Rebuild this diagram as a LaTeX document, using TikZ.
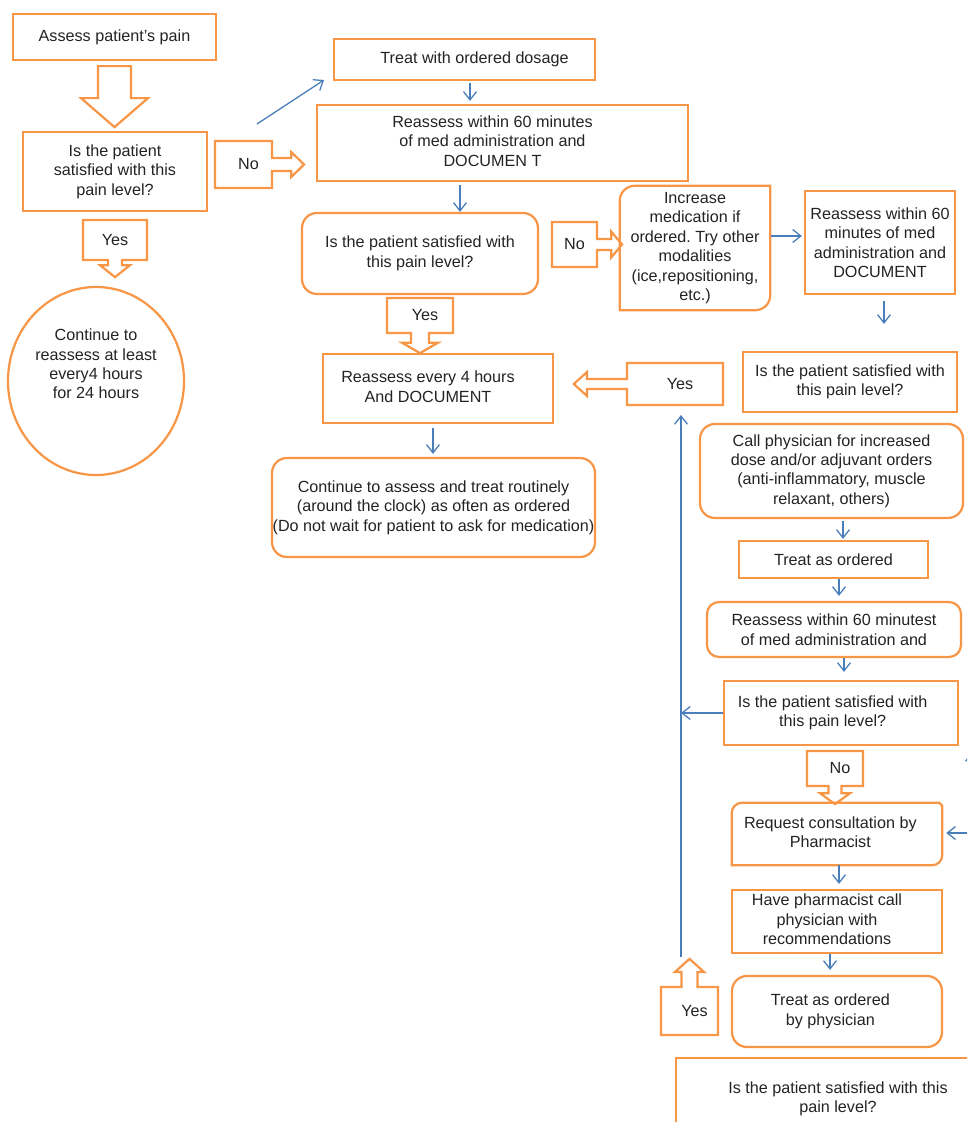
\documentclass[tikz,border=0pt]{standalone}
\usepackage{fontspec}
\setmainfont{Liberation Sans}
\usepackage{tikz}
\usetikzlibrary{shapes.geometric, shapes.arrows, arrows.meta, positioning, calc}
\definecolor{boxorange}{RGB}{247,150,70}
\definecolor{flowblue}{RGB}{74,126,187}
\definecolor{txtdark}{RGB}{35,35,35}
\newcommand{\flowfont}{\fontsize{13.8}{16.6}\selectfont\frenchspacing}
\newcommand{\padright}[2]{\begin{tabular}{@{}c@{\hspace{#1}}}#2\end{tabular}}
\tikzset{
  box/.style={rectangle, draw=boxorange, line width=1.9pt, align=center,
    inner sep=0pt, font=\flowfont, text=txtdark},
  rbox/.style={box, rounded corners=0.45cm},
  dbox/.style={rectangle, align=center, inner sep=0pt, font=\flowfont, text=txtdark},
  plain/.style={align=center, inner sep=0pt, font=\flowfont, text=txtdark},
  oval/.style={ellipse, draw=boxorange, line width=1.9pt, inner sep=0pt},
  tag/.style={arrow box, draw=boxorange, line width=1.9pt, inner sep=0pt,
    font=\flowfont, text=txtdark},
  edge/.style={draw=boxorange, line width=1.9pt},
  hollow/.style={draw=boxorange, line width=1.9pt, line join=miter},
  flow/.style={-{Straight Barb[length=7pt,width=11pt]}, flowblue, line width=1.1pt}
}

\begin{document}
\begin{tikzpicture}[x=0.03cm, y=-0.03cm]

  \useasboundingbox (0,0) rectangle (967,1122);
  \begin{scope}
  \clip (0,0) rectangle (967,1122);

  % left column
  \node[box, minimum width=6.09cm, minimum height=1.38cm] (assess) at (114.5,37) {Assess patient's pain};
  \node[box, minimum width=5.52cm, minimum height=2.37cm] (sat1) at (115,171.5) {Is the patient\\satisfied with this\\pain level?};
  \node[tag, minimum width=1.71cm, minimum height=1.41cm, arrow box arrows={east:0.93cm from border},
    arrow box shaft width=0.39cm, arrow box head extend=0.18cm, arrow box tip angle=88] (no1) at (243.5,164.5) {\hspace*{0.3cm}No};
  \node[tag, minimum width=1.92cm, minimum height=1.2cm, arrow box arrows={south:0.48cm from border},
    arrow box shaft width=0.42cm, arrow box head extend=0.24cm, arrow box tip angle=103] (yes1) at (115,240) {Yes};
  \node[oval, minimum width=5.28cm, minimum height=5.64cm] (keep) at (96,381) {};
  \node[plain] (keeptxt) at (96,364) {Continue to\\reassess at least\\every4 hours\\for 24 hours};

  \draw[hollow] ($(assess.south)+(-16.5,5)$) -- ++(33,0) -- ++(0,32) -- ++(17,0) -- ++(-33.5,29)
    -- ++(-33.5,-29) -- ++(17,0) -- cycle;

  % middle column
  \coordinate (diagstart) at (257,124);
  \coordinate (diagend) at (324,80);
  \node[box, minimum width=7.83cm, minimum height=1.23cm] (treat) at (464.5,59.5) {\hspace*{0.6cm}Treat with ordered dosage};
  \node[box, minimum width=11.13cm, minimum height=2.28cm] (reass1) at (502.5,143) {\padright{0.6cm}{Reassess within 60 minutes\\of med administration and\\DOCUMEN T}};
  \node[rbox, minimum width=7.08cm, minimum height=2.43cm] (sat2) at (420,253.5) {Is the patient satisfied with\\this pain level?};
  \node[tag, minimum width=1.35cm, minimum height=1.35cm, arrow box arrows={east:0.72cm from border},
    arrow box shaft width=0.33cm, arrow box head extend=0.225cm, arrow box tip angle=100] (no2) at (574.5,244.5) {No};
  \node[tag, minimum width=1.98cm, minimum height=1.05cm, arrow box arrows={south:0.57cm from border},
    arrow box shaft width=0.54cm, arrow box head extend=0.27cm, arrow box tip angle=120] (yes2) at (420,315.5) {\hspace*{0.3cm}Yes};
  \node[box, minimum width=6.9cm, minimum height=2.07cm] (every4) at (438,388.5) {\padright{0.6cm}{Reassess every 4 hours\\And DOCUMENT}};
  \node[rbox, minimum width=9.69cm, minimum height=2.97cm] (routine) at (433.5,507.5) {Continue to assess and treat routinely\\(around the clock) as often as ordered\\(Do not wait for patient to ask for medication)};

  % right column
  \node[dbox, minimum width=4.5cm, minimum height=3.72cm] (more) at (695,248) {Increase\\medication if\\ordered. Try other\\modalities\\(ice,repositioning,\\etc.)};
  \draw[edge] (more.south west) -- ($(more.north west)+(0,15)$)
    .. controls ($(more.north west)+(0,6.7)$) and ($(more.north west)+(6.7,0)$) .. ($(more.north west)+(15,0)$)
    -- (more.north east) -- ($(more.south east)+(0,-15)$)
    .. controls ($(more.south east)+(0,-6.7)$) and ($(more.south east)+(-6.7,0)$) .. ($(more.south east)+(-15,0)$)
    -- cycle;
  \node[box, minimum width=4.5cm, minimum height=3.09cm] (reass2) at (880,242.5) {Reassess within 60\\minutes of med\\administration and\\DOCUMENT};
  \node[box, minimum width=6.42cm, minimum height=1.8cm] (sat3) at (850,382) {Is the patient satisfied with\\this pain level?};
  \node[tag, minimum width=2.88cm, minimum height=1.26cm, arrow box arrows={west:1.56cm from border},
    arrow box shaft width=0.3cm, arrow box head extend=0.21cm, arrow box tip angle=85] (yes3) at (675,384) {\hspace*{0.3cm}Yes};
  \node[rbox, minimum width=7.89cm, minimum height=2.82cm] (callmd) at (831.5,471) {Call physician for increased\\dose and/or adjuvant orders\\(anti-inflammatory, muscle\\relaxant, others)};
  \node[box, minimum width=5.67cm, minimum height=1.11cm] (treat2) at (833.5,559.5) {Treat as ordered};
  \node[rbox, rounded corners=0.36cm, minimum width=7.62cm, minimum height=1.65cm] (reass3) at (834,629.5) {Reassess within 60 minutest\\of med administration and};
  \node[box, minimum width=7.02cm, minimum height=1.92cm] (sat4) at (841,713) {\padright{0.5cm}{Is the patient satisfied with\\this pain level?}};
  \node[tag, minimum width=1.68cm, minimum height=1.05cm, arrow box arrows={south:0.51cm from border},
    arrow box shaft width=0.39cm, arrow box head extend=0.255cm, arrow box tip angle=108] (no3) at (835,768.5) {\hspace*{0.3cm}No};
  \node[dbox, minimum width=6.3cm, minimum height=1.86cm] (pharm) at (837,834) {\padright{0.4cm}{Request consultation by\\Pharmacist}};
  \draw[edge] (pharm.south west) -- ($(pharm.north west)+(0,10)$)
    .. controls ($(pharm.north west)+(0,4.5)$) and ($(pharm.north west)+(4.5,0)$) .. ($(pharm.north west)+(10,0)$)
    -- ($(pharm.north east)+(-3,0)$) -- ($(pharm.north east)+(0,3)$) -- ($(pharm.south east)+(0,-10)$)
    .. controls ($(pharm.south east)+(0,-4.5)$) and ($(pharm.south east)+(-4.5,0)$) .. ($(pharm.south east)+(-10,0)$)
    -- cycle;
  \node[box, minimum width=6.3cm, minimum height=1.89cm] (pharmcall) at (837,921.5) {\padright{0.6cm}{Have pharmacist call\\physician with\\recommendations}};
  \node[rbox, minimum width=6.3cm, minimum height=2.13cm] (treat3) at (837,1011.5) {\padright{0.4cm}{Treat as ordered\\by physician}};
  \node[tag, minimum width=1.71cm, minimum height=1.44cm, arrow box arrows={north:0.81cm from border},
    arrow box shaft width=0.48cm, arrow box head extend=0.195cm, arrow box tip angle=96] (yes4) at (689.5,1011) {\hspace*{0.3cm}Yes};
  \node[box, minimum width=9.72cm, minimum height=2.46cm] (sat5) at (838,1099) {Is the patient satisfied with this\\pain level?};

  % blue connectors
  \coordinate (loopTop) at (681,415);
  \coordinate (edgein) at (967,833);
  \coordinate (edgelow) at (972,790);
  \coordinate (edgehigh) at (972,752);
  \draw[flow] (diagstart) -- (diagend);
  \draw[flow] ($(treat.south)+(5.5,2)$) -- ($(reass1.north)+(-32.5,-3)$);
  \draw[flow] ($(reass1.south)+(-42.5,3)$) -- ($(sat2.north)+(40,0)$);
  \draw[flow] ($(more.east)+(1,-12)$) -- ($(reass2.west)+(-2,-6.5)$);
  \draw[flow] ($(reass2.south)+(4,6)$) -- ($(sat3.north)+(34,-27)$);
  \draw[flow] ($(every4.south)+(-5,4)$) -- ($(routine.north)+(-0.5,-3)$);
  \draw[flow] ($(callmd.south)+(11.5,2)$) -- ($(treat2.north)+(9.5,-1)$);
  \draw[flow] ($(treat2.south)+(5.5,0)$) -- ($(reass3.north)+(5,-5)$);
  \draw[flow] ($(reass3.south)+(10,0)$) -- ($(sat4.north)+(3,-8)$);
  \draw[flow] ($(yes4.north)+(-8.5,0)$) -- (loopTop);
  \draw[flow] (sat4.west) -- (sat4.west -| loopTop);
  \draw[flow] (edgein) -- ($(pharm.east)+(4,-1)$);
  \draw[flow] ($(pharm.south)+(2,0)$) -- ($(pharmcall.north)+(2,-5)$);
  \draw[flow] ($(pharmcall.south)+(-7,0)$) -- ($(treat3.north)+(-7,-5)$);
  \draw[flow] (edgelow) -- (edgehigh);

  \end{scope}
\end{tikzpicture}
\end{document}
